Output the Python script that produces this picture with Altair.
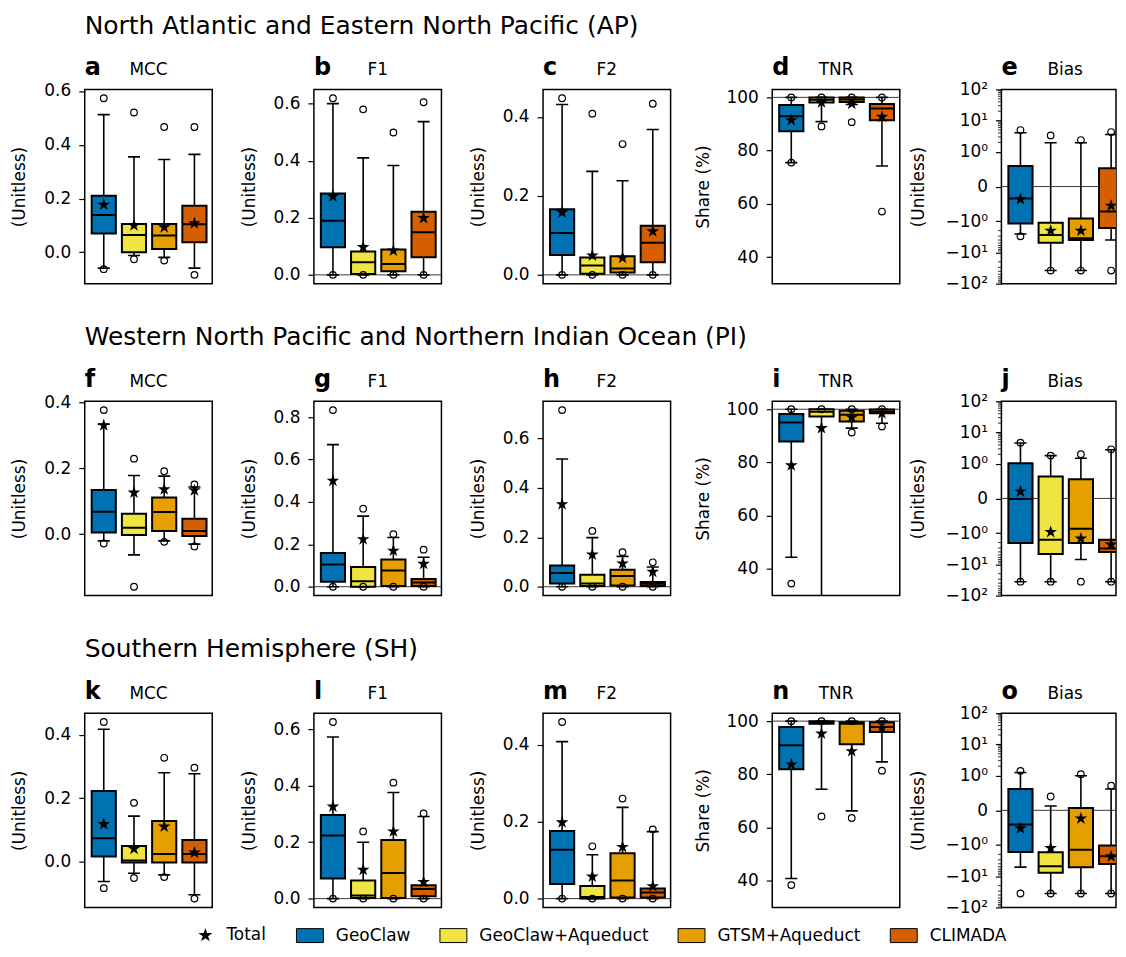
import math
import altair as alt
import pandas as pd

MODELS = ["GeoClaw", "GeoClaw+Aqueduct", "GTSM+Aqueduct", "CLIMADA"]
COLORS = ["#0072B2", "#F0E442", "#E69F00", "#D55E00"]
REGIONS = ["North Atlantic and Eastern North Pacific (AP)",
           "Western North Pacific and Northern Indian Ocean (PI)",
           "Southern Hemisphere (SH)"]
METRICS = ["MCC", "F1", "F2", "TNR", "Bias"]
YTITLES = ["(Unitless)", "(Unitless)", "(Unitless)", "Share (%)", "(Unitless)"]
LETTERS = "abcdefghijklmno"
FIELDS = ["out_lo", "whis_lo", "q1", "med", "q3", "whis_hi", "out_hi", "total"]

# ---- AP ----
AP_MCC = {"out_lo": [-0.063, -0.026, -0.031, -0.084], "whis_lo": [-0.059, -0.012, -0.019, -0.059],
          "q1": [0.070, 0.000, 0.012, 0.037], "med": [0.139, 0.064, 0.062, 0.104],
          "q3": [0.210, 0.105, 0.105, 0.173], "whis_hi": [0.512, 0.355, 0.345, 0.364],
          "out_hi": [0.573, 0.520, 0.466, 0.466], "total": [0.177, 0.100, 0.093, 0.108]}
AP_F1 = {"out_lo": [0, 0, 0, 0], "whis_lo": [0, 0, 0, 0],
         "q1": [0.097, 0.003, 0.013, 0.062], "med": [0.190, 0.044, 0.038, 0.149],
         "q3": [0.285, 0.082, 0.089, 0.221], "whis_hi": [0.600, 0.410, 0.383, 0.537],
         "out_hi": [0.619, 0.580, 0.499, 0.605], "total": [0.275, 0.097, 0.085, 0.199]}
AP_F2 = {"out_lo": [0, 0, 0, 0], "whis_lo": [0, 0, 0, 0],
         "q1": [0.050, 0.003, 0.006, 0.032], "med": [0.106, 0.024, 0.016, 0.081],
         "q3": [0.166, 0.044, 0.047, 0.124], "whis_hi": [0.431, 0.262, 0.238, 0.368],
         "out_hi": [0.447, 0.408, 0.331, 0.433], "total": [0.158, 0.049, 0.043, 0.110]}
AP_TNR = {"out_lo": [75.5, 89.1, 90.7, 57.1], "whis_lo": [75.5, 90.9, 97.3, 74.2],
          "q1": [87.3, 98.1, 98.3, 91.4], "med": [92.9, 99.1, 99.2, 95.8],
          "q3": [97.1, 100, 100, 97.5], "whis_hi": [100, 100, 100, 100],
          "out_hi": [100, 100, 100, 100], "total": [91.4, 98.1, 97.6, 92.7]}
AP_BIAS = {"out_lo": [-3.05, -38, -38, -38], "whis_lo": [-2.57, -38, -38, -4.0],
           "q1": [-1.175, -4.86, -4.0, -1.66], "med": [-0.345, -2.77, -3.53, -0.718],
           "q3": [0.594, -1.12, -0.919, 0.527], "whis_hi": [4.1, 1.96, 1.96, 3.6],
           "out_hi": [4.99, 3.37, 2.39, 4.3], "total": [-0.364, -2.01, -2.01, -0.555]}
# ---- PI ----
PI_MCC = {"out_lo": [-0.028, -0.159, -0.023, -0.037], "whis_lo": [-0.020, -0.0625, -0.020, -0.030],
          "q1": [0.005, -0.002, 0.010, -0.005], "med": [0.0685, 0.020, 0.0675, 0.010],
          "q3": [0.134, 0.062, 0.111, 0.047], "whis_hi": [0.333, 0.178, 0.176, 0.143],
          "out_hi": [0.376, 0.229, 0.191, 0.151], "total": [0.330, 0.126, 0.136, 0.133]}
PI_F1 = {"out_lo": [0, 0, 0, 0], "whis_lo": [0, 0, 0, 0],
         "q1": [0.023, 0.0, 0.003, 0.003], "med": [0.105, 0.026, 0.077, 0.020],
         "q3": [0.159, 0.093, 0.128, 0.036], "whis_hi": [0.670, 0.333, 0.232, 0.139],
         "out_hi": [0.833, 0.368, 0.248, 0.175], "total": [0.500, 0.224, 0.170, 0.108]}
PI_F2 = {"out_lo": [0, 0, 0, 0], "whis_lo": [0, 0, 0, 0],
         "q1": [0.013, 0.003, 0.005, 0.003], "med": [0.056, 0.013, 0.043, 0.012],
         "q3": [0.0855, 0.049, 0.069, 0.019], "whis_hi": [0.517, 0.199, 0.123, 0.080],
         "out_hi": [0.715, 0.226, 0.140, 0.099], "total": [0.334, 0.130, 0.094, 0.060]}
PI_TNR = {"out_lo": [34.5, 28, 91.25, 93.5], "whis_lo": [44.4, 28, 92.9, 94.75],
          "q1": [87.9, 97.25, 95.4, 98.5], "med": [95.0, 99.1, 97.9, 99.1],
          "q3": [98.25, 100, 99.4, 99.9], "whis_hi": [100, 100, 100, 100],
          "out_hi": [100, 100, 100, 100], "total": [78.9, 92.9, 96.9, 98.5]}
PI_BIAS = {"out_lo": [-36, -36, -36, -36], "whis_lo": [-36, -36, -7.0, -36],
           "q1": [-2.06, -4.63, -2.06, -4.0], "med": [-0.019, -1.62, -0.871, -3.13],
           "q3": [1.04, 0.632, 0.555, -1.62], "whis_hi": [4.6, 1.82, 1.50, 2.8],
           "out_hi": [4.74, 1.82, 2.01, 2.9], "total": [0.2, -0.967, -1.50, -2.34]}
# ---- SH ----
SH_MCC = {"out_lo": [-0.084, -0.052, -0.049, -0.117], "whis_lo": [-0.063, -0.037, -0.042, -0.105],
          "q1": [0.016, -0.003, -0.003, -0.003], "med": [0.073, 0.003, 0.024, 0.024],
          "q3": [0.222, 0.049, 0.128, 0.068], "whis_hi": [0.417, 0.143, 0.280, 0.277],
          "out_hi": [0.440, 0.185, 0.327, 0.296], "total": [0.118, 0.040, 0.110, 0.028]}
SH_F1 = {"out_lo": [0, 0, 0, 0], "whis_lo": [0, 0, 0, 0],
         "q1": [0.071, 0.002, 0.002, 0.008], "med": [0.224, 0.011, 0.091, 0.034],
         "q3": [0.296, 0.064, 0.208, 0.047], "whis_hi": [0.573, 0.200, 0.376, 0.291],
         "out_hi": [0.626, 0.238, 0.411, 0.302], "total": [0.326, 0.102, 0.238, 0.059]}
SH_F2 = {"out_lo": [0, 0, 0, 0], "whis_lo": [0, 0, 0, 0],
         "q1": [0.038, 0.0, 0.003, 0.003], "med": [0.127, 0.004, 0.047, 0.016],
         "q3": [0.176, 0.033, 0.118, 0.026], "whis_hi": [0.408, 0.114, 0.237, 0.174],
         "out_hi": [0.459, 0.136, 0.260, 0.180], "total": [0.198, 0.057, 0.134, 0.032]}
SH_TNR = {"out_lo": [38.4, 64.2, 63.6, 81.4], "whis_lo": [40.9, 74.4, 66.3, 84.7],
          "q1": [81.9, 99.0, 91.3, 95.9], "med": [90.9, 99.6, 99.0, 97.8],
          "q3": [97.8, 100, 99.6, 99.6], "whis_hi": [100, 100, 100, 100],
          "out_hi": [100, 100, 100, 100], "total": [83.7, 95.3, 88.7, 97.4]}
SH_BIAS = {"out_lo": [-35.7, -35.7, -35.7, -35.7], "whis_lo": [-5.13, -35.7, -35.7, -35.7],
           "q1": [-1.68, -7.74, -5.13, -4.03], "med": [-0.408, -4.77, -1.42, -2.31],
           "q3": [0.616, -1.72, 0.066, -1.04], "whis_hi": [1.26, 0.123, 0.995, 0.616],
           "out_hi": [1.42, 0.398, 1.11, 0.71], "total": [-0.521, -1.26, -0.237, -2.31]}

PANELS = [[AP_MCC, AP_F1, AP_F2, AP_TNR, AP_BIAS],
          [PI_MCC, PI_F1, PI_F2, PI_TNR, PI_BIAS],
          [SH_MCC, SH_F1, SH_F2, SH_TNR, SH_BIAS]]

LIN_TICKS = [0.0, 0.2, 0.4, 0.6, 0.8]
TNR_TICKS = [40, 60, 80, 100]
TNR_RANGE = [30, 103]
BIAS_TICKS = [-100, -10, -1, 0, 1, 10, 100]
BIAS_MINOR = [s * k * 10 ** j for s in (-1, 1) for j in (0, 1) for k in range(2, 10)]

LINSCALE = 1.0 / (1.0 - 1.0 / 10.0)  # matplotlib symlog, linthresh=1, linscale=1


def symlog(v):
    a = abs(v)
    t = a * LINSCALE if a <= 1 else LINSCALE + math.log10(a)
    return t if v >= 0 else -t


def symlog_expr(f):
    a = f"abs(datum['{f}'])"
    return f"(datum['{f}'] < 0 ? -1 : 1) * ({a} <= 1 ? {a} * {LINSCALE} : {LINSCALE} + log({a}) / LN10)"


BIAS_LABEL_EXPR = ("datum.value > 3 ? '10²' : datum.value > 2 ? '10¹' : datum.value > 1 ? '10⁰' : "
                   "datum.value > -0.5 ? '0' : datum.value > -2 ? '−10⁰' : datum.value > -3 ? '−10¹' : '−10²'")

STAR = ("M0,-1L0.225,-0.309L0.951,-0.309L0.363,0.118L0.588,0.809L0,0.382"
        "L-0.588,0.809L-0.363,0.118L-0.951,-0.309L-0.225,-0.309Z")
RECT = "M-1.93,-1L1.93,-1L1.93,1L-1.93,1Z"

W, H = 128, 195
W_LAST = 115
PX_PER_UNIT = 30.33
X0 = 0.37
AXIS_EXTENT = {"MCC": 46, "F1": 46, "F2": 46, "TNR": 50, "Bias": 64}

COLOR_LEG = alt.Legend(title=None, orient="none", direction="horizontal", legendX=217.5, legendY=840.5,
                       symbolType=RECT, symbolSize=196, symbolStrokeColor="black", symbolStrokeWidth=1,
                       symbolOpacity=1, labelFontSize=17, labelColor="black", labelOffset=17.5,
                       columnPadding=26, padding=0, labelLimit=400, labelFont="DejaVu Sans")
SHAPE_LEG = alt.Legend(title=None, orient="none", direction="horizontal", legendX=112.6, legendY=840.5,
                       symbolSize=220, symbolFillColor="black", symbolStrokeColor="black",
                       symbolOpacity=1, labelFontSize=17, labelColor="black", labelOffset=12.6,
                       padding=0, labelLimit=400, labelFont="DejaVu Sans")


def make_panel(r, c):
    stats = PANELS[r][c]
    metric = METRICS[c]
    idx = r * 5 + c
    bias = metric == "Bias"
    width = W_LAST if c == 4 else W
    xsc = alt.Scale(domain=[X0, X0 + width / PX_PER_UNIT], nice=False, zero=False)
    df = pd.DataFrame({"model": MODELS, "pos": [1, 2, 3, 4], **stats})
    base = alt.Chart(df).transform_calculate(
        xl="datum.pos - 0.4", xr="datum.pos + 0.4",
        cl="datum.pos - 0.2", cr="datum.pos + 0.2", tl="'Total'")
    ext = AXIS_EXTENT[metric]
    ax_common = dict(title=YTITLES[c], minExtent=ext, maxExtent=ext, titlePadding=10)
    if bias:
        base = base.transform_calculate(**{k + "_y": symlog_expr(k) for k in FIELDS})
        dom = [-symlog(100), symlog(100)]
        ticks = [symlog(v) for v in BIAS_TICKS]
        ref = 0
        yax = alt.Axis(values=ticks, labelExpr=BIAS_LABEL_EXPR, **ax_common)
    else:
        base = base.transform_calculate(**{k + "_y": f"datum['{k}']" for k in FIELDS})
        if metric == "TNR":
            dom = TNR_RANGE
            ticks = TNR_TICKS
            ref = 100
            fmt = "d"
        else:
            lo = min(stats["out_lo"] + stats["whis_lo"])
            hi = max(stats["out_hi"] + stats["whis_hi"])
            pad = 0.05 * (hi - lo)
            dom = [lo - pad, hi + pad]
            ticks = [t for t in LIN_TICKS if dom[0] <= t <= dom[1]]
            ref = 0 if metric in ("F1", "F2") else None
            fmt = ".1f"
        yax = alt.Axis(values=ticks, format=fmt, **ax_common)
    ysc = alt.Scale(domain=dom, nice=False, zero=False)

    def Y(f):
        return alt.Y(f + ":Q", scale=ysc, axis=yax)

    def X(f):
        return alt.X(f + ":Q", scale=xsc, axis=None)

    layers = []
    if ref is not None:
        layers.append(alt.Chart(pd.DataFrame({"ref": [ref]})).mark_rule(
            color="#3a3a3a", strokeWidth=1).encode(y=Y("ref")))
    if bias:
        mdf = pd.DataFrame({"m": BIAS_MINOR})
        layers.append(alt.Chart(mdf).transform_calculate(m_y=symlog_expr("m")).mark_rule(
            color="black", strokeWidth=0.8).encode(
            x=alt.value(-3.5), x2=alt.value(0), y=Y("m_y")))
    layers += [
        base.mark_rule(color="black", strokeWidth=1.6, clip=True).encode(
            x=X("pos"), y=Y("whis_lo_y"), y2="whis_hi_y:Q"),
        base.mark_rule(color="black", strokeWidth=1.6, clip=True).encode(
            x=X("cl"), x2="cr:Q", y=Y("whis_lo_y")),
        base.mark_rule(color="black", strokeWidth=1.6, clip=True).encode(
            x=X("cl"), x2="cr:Q", y=Y("whis_hi_y")),
        base.mark_rect(stroke="black", strokeWidth=2, clip=True, opacity=1).encode(
            x=X("xl"), x2="xr:Q", y=Y("q1_y"), y2="q3_y:Q",
            color=alt.Color("model:N", scale=alt.Scale(domain=MODELS, range=COLORS), legend=COLOR_LEG)),
        base.mark_rule(color="black", strokeWidth=2, clip=True).encode(
            x=X("xl"), x2="xr:Q", y=Y("med_y")),
        base.mark_point(shape="circle", filled=False, color="black", size=44, strokeWidth=1.2,
                        opacity=1, clip=True).encode(x=X("pos"), y=Y("out_lo_y")),
        base.mark_point(shape="circle", filled=False, color="black", size=44, strokeWidth=1.2,
                        opacity=1, clip=True).encode(x=X("pos"), y=Y("out_hi_y")),
        base.mark_point(filled=True, color="black", size=180, opacity=1, clip=True).encode(
            x=X("pos"), y=Y("total_y"),
            shape=alt.Shape("tl:N", scale=alt.Scale(domain=["Total"], range=[STAR]), legend=SHAPE_LEG)),
    ]
    layers.append(alt.Chart(pd.DataFrame({"t": [LETTERS[idx]]})).mark_text(
        align="left", baseline="alphabetic", fontSize=24, fontWeight="bold", color="black",
        font="DejaVu Sans").encode(x=alt.value(0), y=alt.value(-14), text="t:N"))
    layers.append(alt.Chart(pd.DataFrame({"t": [metric]})).mark_text(
        align="center", baseline="alphabetic", fontSize=17, color="black",
        font="DejaVu Sans").encode(x=alt.value(W / 2), y=alt.value(-14), text="t:N"))
    if c == 0:
        layers.append(alt.Chart(pd.DataFrame({"t": [REGIONS[r]]})).mark_text(
            align="left", baseline="alphabetic", fontSize=25, color="black",
            font="DejaVu Sans").encode(x=alt.value(0), y=alt.value(-56), text="t:N"))
    return alt.layer(*layers).properties(width=width, height=H)


panels = [make_panel(r, c) for r in range(3) for c in range(5)]

chart = alt.concat(*panels, columns=5, spacing={"row": 118, "column": 102}, bounds="flush").resolve_scale(
    x="independent", y="independent", color="shared", shape="shared"
).properties(padding={"left": 2, "top": 3, "right": 0, "bottom": 0}).configure(
    font="DejaVu Sans"
).configure_view(
    stroke="black", strokeWidth=1.5
).configure_axis(
    labelFontSize=17, labelColor="black", labelFont="DejaVu Sans",
    titleFontSize=17, titleFontWeight="normal", titleColor="black", titleFont="DejaVu Sans",
    tickColor="black", tickSize=6, tickWidth=1.2, domain=False, grid=False, labelPadding=8
)

chart.save("out.html", embed_options={"renderer": "svg", "actions": False})
